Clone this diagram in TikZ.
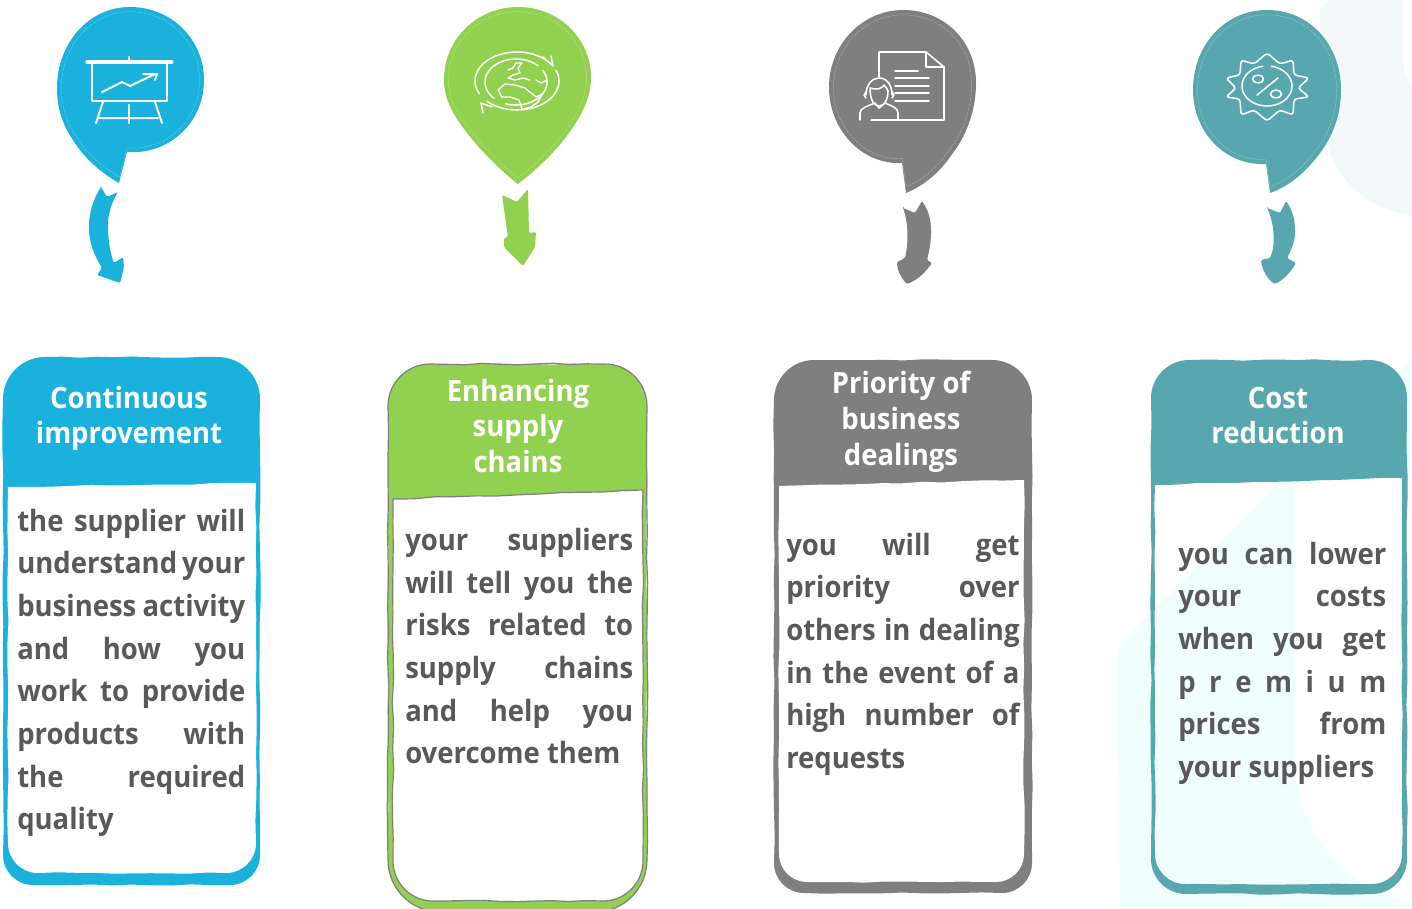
\documentclass[tikz,border=0pt]{standalone}
\usepackage{fontspec}
\setmainfont{Open Sans}[BoldFeatures={FakeStretch=0.937}]
\definecolor{cblue}{HTML}{1AB2DC}
\definecolor{cgreen}{HTML}{92D050}
\definecolor{cgray}{HTML}{7F7F7F}
\definecolor{cteal}{HTML}{59A7AE}
\definecolor{ctext}{HTML}{595959}
\definecolor{paleblue}{HTML}{F2F7FA}
\definecolor{palecyan}{HTML}{F0FEFE}
% a slightly shaky straight stretch, from the current point (x1,y1) to (x2,y2)
\newcommand\wl[5]{\foreach \wi in {1,...,#5} { -- ({(#1)+((#3)-(#1))*\wi/(#5+1)+.75*rand},{(#2)+((#4)-(#2))*\wi/(#5+1)+.75*rand}) } -- (#3,#4)}
\newcommand\cardpath[6]{({#1+#5},#3) \wl{#1+#5}{#3}{#2-#5}{#3}{9} .. controls ({#2-.45*#5},#3) and (#2,{#3+.45*#5}) .. (#2,{#3+#5}) \wl{#2}{#3+#5}{#2}{#4-#6}{17} .. controls (#2,{#4-.45*#6}) and ({#2-.45*#6},#4) .. ({#2-#6},#4) \wl{#2-#6}{#4}{#1+#6}{#4}{9} .. controls ({#1+.45*#6},#4) and (#1,{#4-.45*#6}) .. (#1,{#4-#6}) \wl{#1}{#4-#6}{#1}{#3+#5}{17} .. controls (#1,{#3+.45*#5}) and ({#1+.45*#5},#3) .. ({#1+#5},#3) -- cycle}
\newcommand\innerpath[6]{(#1,#3) \wl{#1}{#3}{#2}{#4}{11} \wl{#2}{#4}{#2}{#5-#6}{15} .. controls (#2,{#5-.45*#6}) and ({#2-.45*#6},#5) .. ({#2-#6},#5) \wl{#2-#6}{#5}{#1+#6}{#5}{9} .. controls ({#1+.45*#6},#5) and (#1,{#5-.45*#6}) .. (#1,{#5-#6}) \wl{#1}{#5-#6}{#1}{#3}{15} -- cycle}
\newcommand\bodytext[2]{\vtop{\hsize=#1pt \parindent=0pt \baselineskip=32pt \lineskiplimit=-100pt\relax #2}}
\newcommand\jl[1]{\hbox to \hsize{#1}}
\newcommand\lastl[1]{\hbox{#1}}
\def\ballA{(127,152) -- (119,183) .. controls (100,172) and (84,158) .. (73,140) .. controls (62,124) and (57,107) .. (57,88) .. controls (57,44) and (88,7) .. (130,7) .. controls (172,7) and (204,40) .. (204,80) .. controls (204,122) and (170,155) .. (127,152) -- cycle}
\def\ballB{(518,184) .. controls (500,170) and (482,152) .. (468,134) .. controls (452,114) and (444,98) .. (444,80) .. controls (444,38) and (478,7) .. (518,7) .. controls (560,7) and (591,40) .. (591,77) .. controls (591,100) and (580,118) .. (566,137) .. controls (552,155) and (536,170) .. (518,184) -- cycle}
\def\ballC{(902,163) -- (906,193) .. controls (925,185) and (940,172) .. (953,153) .. controls (968,133) and (976,108) .. (976,83) .. controls (976,42) and (945,10) .. (903,10) .. controls (862,10) and (829,45) .. (829,87) .. controls (829,130) and (862,165) .. (902,163) -- cycle}
\def\ballD{(1266,164) -- (1270,193) .. controls (1290,186) and (1305,172) .. (1317,157) .. controls (1333,137) and (1341,115) .. (1341,90) .. controls (1341,45) and (1310,10) .. (1267,10) .. controls (1225,10) and (1193,45) .. (1193,90) .. controls (1193,132) and (1225,166) .. (1266,164) -- cycle}
\tikzset{
  x=.75pt,y=-.75pt,
  stitch/.style={draw=white,opacity=.3,line width=.35pt,dash pattern=on 3pt off .6pt},
  icon/.style={draw=white,line width=1.5pt,line cap=round,line join=round},
  thinicon/.style={icon,line width=1.15pt},
  headnode/.style={inner sep=0pt,text=white,font=\bfseries\fontsize{22}{26.6}\selectfont,align=center,anchor=base},
  bodynode/.style={inner sep=0pt,text=ctext,font=\bfseries\fontsize{22}{32}\selectfont,anchor=base west},
}
\pgfmathsetseed{7}
\begin{document}
\begin{tikzpicture}
\useasboundingbox (0,0) rectangle (1412,908);
\clip (0,0) rectangle (1412,908);
\fill[white] (0,0) rectangle (1412,908);
% pale background shapes
\fill[paleblue] (1330,0) .. controls (1324,4) and (1320,8) .. (1320,13) -- (1320,80) -- (1328,147) .. controls (1338,180) and (1368,210) .. (1412,215) -- (1412,87) .. controls (1406,78) and (1403,70) .. (1403,63) -- (1403,0) -- cycle;
\fill[palecyan] (1117,648) -- (1277,485) -- (1412,358) -- (1412,468) -- (1295,468) -- (1295,775) .. controls (1305,825) and (1325,855) .. (1347,873) .. controls (1365,887) and (1390,897) .. (1412,902) -- (1412,908) -- (1120,908) -- cycle;
% balloons
\fill[cblue] \ballA;
\fill[cgreen] \ballB;
\fill[cgray] \ballC;
\fill[cteal] \ballD;
\path[stitch,shift={(130,85)},scale=.94,shift={(-130,-85)}] \ballA;
\path[stitch,shift={(518,85)},scale=.94,shift={(-518,-85)}] \ballB;
\path[stitch,shift={(903,90)},scale=.94,shift={(-903,-90)}] \ballC;
\path[stitch,shift={(1267,90)},scale=.94,shift={(-1267,-90)}] \ballD;
% arrows
\fill[cblue,rounded corners=1pt] (101,187) -- (107,197) -- (118,192) .. controls (110,205) and (107,220) .. (108,232) .. controls (109,245) and (111,255) .. (114,263) -- (123,257) -- (124,267) -- (120,283) -- (97,275) -- (102,268) .. controls (94,255) and (89,242) .. (89,227) .. controls (89,212) and (94,198) .. (101,187) -- cycle;
\fill[cgreen,rounded corners=1pt] (502,195) -- (517,202) -- (528,189) -- (529,233) -- (536,232) -- (535,247) -- (523,266) -- (504,247) -- (504,238) -- (508,237) -- cycle;
\fill[cgray,rounded corners=1pt] (903,208) -- (915,213) -- (922,201) .. controls (928,210) and (931,218) .. (931,232) .. controls (931,242) and (929,252) .. (927,260) -- (932,263) .. controls (925,273) and (917,280) .. (907,284) .. controls (901,278) and (897,270) .. (897,262) -- (905,258) .. controls (908,245) and (909,225) .. (903,208) -- cycle;
\fill[cteal,rounded corners=1pt] (1267,208) -- (1280,213) -- (1286,201) .. controls (1292,210) and (1295,218) .. (1295,232) .. controls (1295,242) and (1291,250) .. (1287,258) -- (1296,263) .. controls (1290,273) and (1283,280) .. (1275,284) .. controls (1268,280) and (1262,270) .. (1261,260) -- (1270,258) .. controls (1276,245) and (1274,222) .. (1267,208) -- cycle;
% icon 1: presentation board
\draw[icon,line width=2.3pt] (87,62) -- (172,62);
\draw[icon] (129,57) -- (129,62);
\draw[icon] (92,63) rectangle (167,101);
\draw[icon] (102,92) -- (122,82) -- (130,86) -- (155,74);
\draw[icon] (143,74) -- (157,74) -- (155,80);
\draw[icon] (103,102) -- (96,123) (155,102) -- (162,123) (99,118) -- (158,118);
\draw[icon,line width=2.1pt] (129,105) -- (129,123);
% icon 2: globe
\draw[thinicon] plot[smooth,domain=154:323,samples=36] ({517+42*cos(\x)},{81+29*sin(\x)});
\draw[thinicon] plot[smooth,domain=-22:135,samples=36] ({517+42*cos(\x)},{81+29*sin(\x)});
\draw[thinicon] (543,57) -- (553,66) -- (551,56);
\draw[thinicon] (492,107) -- (481,103) -- (483,113);
\draw[thinicon] plot[smooth,domain=135:315,samples=36] ({516+31*cos(\x)},{82+23*sin(\x)});
\draw[thinicon] plot[smooth,domain=330:470,samples=36] ({516+31*cos(\x)},{82+23*sin(\x)});
\draw[thinicon,line width=1pt] (498,90) -- (505,84) -- (515,85) -- (525,88) -- (531,93) -- (536,97) -- (542,94) -- (538,102) -- (531,107) -- (522,109) -- (519,100) -- (510,97) -- (502,97) -- cycle;
\draw[thinicon,line width=1pt] (508,70) -- (513,68) -- (516,63) -- (522,63) -- (518,68) -- (520,73) -- (513,75) -- (508,78) -- (515,80) -- (523,78) -- (530,80);
\draw[thinicon,line width=1pt] (536,80) -- (541,83) -- (547,80);
% icon 3: document and person
\draw[thinicon] (879,77) -- (879,52) -- (926,52) -- (944,67) -- (944,120) -- (871,120);
\draw[thinicon] (926,52) -- (926,67) -- (944,67);
\draw[thinicon] (895,71) -- (918,71) (895,78) -- (929,78) (895,86) -- (929,86) (895,93) -- (929,93) (895,101) -- (929,101);
\draw[thinicon] (866,95) .. controls (866,85) and (872,78) .. (879,78) .. controls (887,78) and (892,85) .. (892,95);
\draw[thinicon] (870,88) .. controls (876,90) and (882,89) .. (884,85) .. controls (886,88) and (888,89) .. (888,91) .. controls (888,100) and (884,106) .. (879,106) .. controls (874,106) and (870,100) .. (870,88);
\draw[thinicon] (866,92) -- (864,95) -- (866,98) (892,92) -- (894,95) -- (892,98);
\draw[thinicon] (860,120) -- (860,113) .. controls (860,108) and (868,106) .. (875,103) -- (879,108) -- (885,103) .. controls (892,106) and (898,108) .. (898,113) -- (898,120);
% icon 4: percent badge
\draw[thinicon,rounded corners=2.2pt] (1267,53) -- (1280,64) -- (1293,60) -- (1294,75) -- (1309,78) -- (1298,88) -- (1309,97) -- (1294,99) -- (1293,115) -- (1280,110) -- (1267,121) -- (1254,110) -- (1241,115) -- (1240,99) -- (1226,97) -- (1236,88) -- (1226,78) -- (1240,75) -- (1241,60) -- (1254,64) -- cycle;
\draw[thinicon] plot[smooth,domain=-80:260,samples=48] ({1267+25*cos(\x)},{86+20*sin(\x)});
\draw[thinicon] (1257,95) -- (1278,78);
\draw[thinicon] (1258,79) ellipse [x radius=5.5,y radius=4];
\draw[thinicon] (1276,94) ellipse [x radius=5.5,y radius=4];
% cards
\fill[cblue] \cardpath{3}{260}{357}{885}{42}{30};
\fill[white] \innerpath{8}{256}{487}{483}{873}{30};
\fill[cgreen] \cardpath{388}{647}{364}{912}{42}{52};
\draw[cgray,line width=.9pt] \cardpath{388}{647}{364}{912}{42}{52};
\fill[white,draw=cgray,line width=.9pt] \innerpath{393}{643}{499}{490}{901}{40};
\fill[cgray] \cardpath{774}{1032}{360}{893}{40}{30};
\fill[white] \innerpath{779}{1024}{486}{480}{882}{28};
\fill[cteal,even odd rule] \cardpath{1151}{1407}{360}{894}{38}{35} \innerpath{1155}{1402}{485}{478}{884}{30};
% card titles
\node[headnode] (h1a) at (129,408) {Continuous};
\node[headnode] (h1b) at (129,443) {improvement};
\node[headnode] (h2a) at (518,401) {Enhancing};
\node[headnode] (h2b) at (518,436) {supply};
\node[headnode] (h2c) at (518,472) {chains};
\node[headnode] (h3a) at (901,393) {Priority of};
\node[headnode] (h3b) at (901,429) {business};
\node[headnode] (h3c) at (901,465) {dealings};
\node[headnode] (h4a) at (1278,408) {Cost};
\node[headnode] (h4b) at (1278,443) {reduction};
% card texts
\node[bodynode] (b1) at (17,531) {\bodytext{171}{\jl{the supplier will}\jl{understand your}\jl{business activity}\jl{and how you}\jl{work to provide}\jl{products with}\jl{the required}\lastl{quality}}};
\node[bodynode] (b2) at (405,550.5) {\bodytext{171}{\jl{your suppliers}\jl{will tell you the}\jl{risks related to}\jl{supply chains}\jl{and help you}\lastl{overcome them}}};
\node[bodynode] (b3) at (786,555) {\bodytext{175}{\jl{you will get}\jl{priority over}\jl{others in dealing}\jl{in the event of a}\jl{high number of}\lastl{requests}}};
\node[bodynode] (b4) at (1178,564) {\bodytext{156}{\jl{you can lower}\jl{your costs}\jl{when you get}\jl{p r e m i u m}\jl{prices from}\lastl{your suppliers}}};
\end{tikzpicture}
\end{document}
